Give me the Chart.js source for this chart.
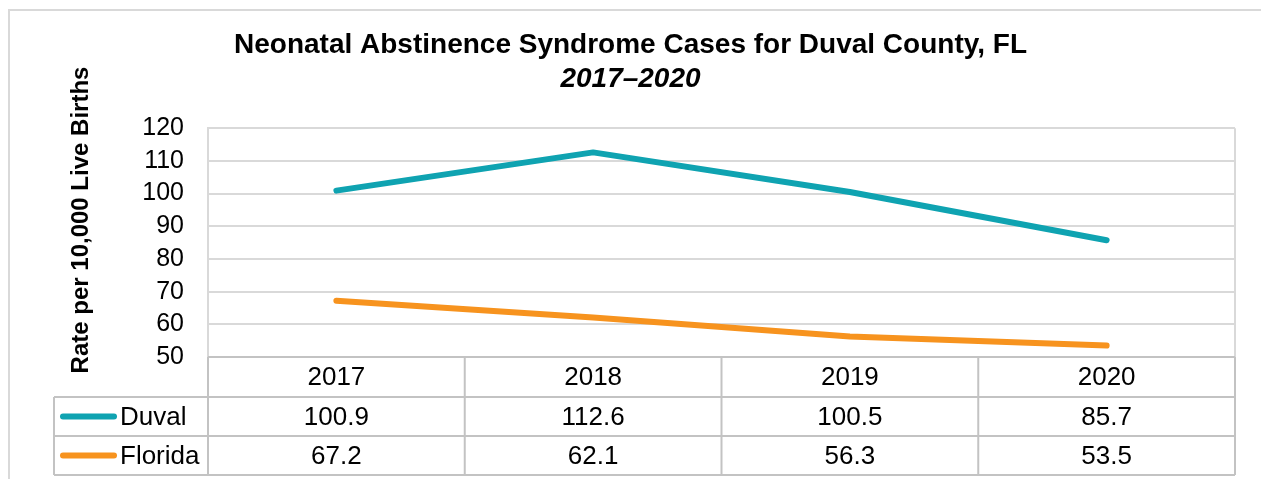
<!DOCTYPE html>
<html>
<head>
    <title>NAS Cases | Duval County</title>
    <script src="https://cdn.jsdelivr.net/npm/chart.js"></script>
    <style>
        body { margin: 0; background: #fff; }
        .chart-box { position: relative; width: 1261px; height: 479px; }
    </style>
</head>
<body>
    <div class="chart-box">
        <canvas id="nasChart"></canvas>
    </div>

    <script>
      const years = ["2017", "2018", "2019", "2020"];
      const duval = [100.9, 112.6, 100.5, 85.7];
      const florida = [67.2, 62.1, 56.3, 53.5];
      const seriesNames = ["Duval", "Florida"];
      const seriesColors = ["#0FA3B1", "#F7931E"];
      const yTicks = [50, 60, 70, 80, 90, 100, 110, 120];

      Chart.defaults.font.family = "'Liberation Sans', Arial, sans-serif";
      Chart.defaults.color = "#000";

      // white page + light frame around the whole chart
      const frame = {
        id: "frame",
        beforeDraw(chart) {
          const c = chart.ctx;
          c.save();
          c.fillStyle = "#fff";
          c.fillRect(0, 0, chart.width, chart.height);
          c.strokeStyle = "#d9d9d9";
          c.lineWidth = 2;
          c.strokeRect(9, 10, chart.width + 20, chart.height + 20);
          c.restore();
        }
      };

      // rotated axis title, sits a bit above the middle of the plot
      const yTitle = {
        id: "yTitle",
        afterDraw(chart) {
          const c = chart.ctx;
          c.save();
          c.translate(88, 220);
          c.rotate(-Math.PI / 2);
          c.font = "bold 24px 'Liberation Sans', Arial, sans-serif";
          c.fillStyle = "#000";
          c.textAlign = "center";
          c.textBaseline = "alphabetic";
          c.fillText("Rate per 10,000 Live Births", 0, 0);
          c.restore();
        }
      };

      // data table under the plot: legend keys + values per year
      const dataTable = {
        id: "dataTable",
        afterDraw(chart) {
          const c = chart.ctx;
          const x = chart.scales.x;
          const area = chart.chartArea;
          const rowH = 39;
          const headTop = area.bottom;
          const headBot = headTop + 40;
          const tableLeft = 54;
          const rows = [duval, florida];

          c.save();
          // plot area right border
          c.strokeStyle = "#d9d9d9";
          c.lineWidth = 2;
          c.beginPath();
          c.moveTo(area.right, area.top);
          c.lineTo(area.right, area.bottom);
          c.stroke();

          c.strokeStyle = "#c3c3c3";
          c.beginPath();
          c.moveTo(area.left, area.bottom);
          c.lineTo(area.right, area.bottom);
          for (let r = 0; r <= rows.length; r++) {
            const y = headBot + r * rowH;
            c.moveTo(tableLeft, y);
            c.lineTo(area.right, y);
          }
          const bottom = headBot + rows.length * rowH;
          c.moveTo(tableLeft, headBot);
          c.lineTo(tableLeft, bottom);
          c.moveTo(area.left, headTop);
          c.lineTo(area.left, bottom);
          const half = (x.getPixelForValue(1) - x.getPixelForValue(0)) / 2;
          for (let i = 0; i < years.length; i++) {
            const edge = x.getPixelForValue(i) + half;
            c.moveTo(edge, headTop);
            c.lineTo(edge, bottom);
          }
          c.stroke();

          c.font = "26px 'Liberation Sans', Arial, sans-serif";
          c.fillStyle = "#000";
          c.textBaseline = "middle";
          rows.forEach((vals, r) => {
            const cy = headBot + r * rowH + rowH / 2;
            c.strokeStyle = seriesColors[r];
            c.lineWidth = 6;
            c.lineCap = "round";
            c.beginPath();
            c.moveTo(63, cy);
            c.lineTo(114, cy);
            c.stroke();
            c.textAlign = "left";
            c.fillText(seriesNames[r], 120, cy + 1);
            c.textAlign = "center";
            vals.forEach((v, i) => {
              c.fillText(v.toFixed(1), x.getPixelForValue(i), cy + 1);
            });
          });
          c.restore();
        }
      };

      const lineStyle = {
        borderWidth: 6,
        borderCapStyle: "round",
        borderJoinStyle: "round",
        pointRadius: 0,
        tension: 0,
      };

      const ctx = document.getElementById("nasChart");
      const nasChart = new Chart(ctx, {
        type: "line",
        data: {
          labels: years,
          datasets: [
            { label: seriesNames[0], data: duval, borderColor: seriesColors[0], ...lineStyle },
            { label: seriesNames[1], data: florida, borderColor: seriesColors[1], ...lineStyle },
          ],
        },
        options: {
          responsive: true,
          maintainAspectRatio: false,
          animation: false,
          layout: { padding: 0 },
          plugins: {
            legend: { display: false },
            tooltip: { enabled: false },
            title: {
              display: true,
              text: "Neonatal Abstinence Syndrome Cases for Duval County, FL",
              font: { size: 28, weight: "bold" },
              color: "#000",
              padding: { top: 28, bottom: 0 },
            },
            subtitle: {
              display: true,
              text: "2017\u20132020",
              font: { size: 28, weight: "bold", style: "italic" },
              color: "#000",
              padding: { top: 1, bottom: 32 },
            },
          },
          scales: {
            x: {
              type: "category",
              offset: true,
              grid: { display: false, drawTicks: false },
              border: { display: false },
              ticks: { font: { size: 26 }, color: "#000", padding: 5 },
              afterFit(s) { s.height = 122; },
            },
            y: {
              min: 50,
              max: 120,
              afterBuildTicks(s) { s.ticks = yTicks.map(v => ({ value: v })); },
              grid: { color: "#d9d9d9", lineWidth: 2, drawTicks: false },
              border: { display: true, color: "#d9d9d9", width: 2 },
              ticks: { font: { size: 25 }, color: "#000", padding: 24, autoSkip: false },
              afterFit(s) { s.width = 208; },
            },
            // empty strip on the right so the plot stops short of the frame
            gutter: {
              position: "right",
              display: true,
              grid: { display: false, drawTicks: false },
              border: { display: false },
              ticks: { display: false },
              afterFit(s) { s.width = 26; },
            },
          },
        },
        plugins: [frame, yTitle, dataTable],
      });
    </script>
</body>
</html>
